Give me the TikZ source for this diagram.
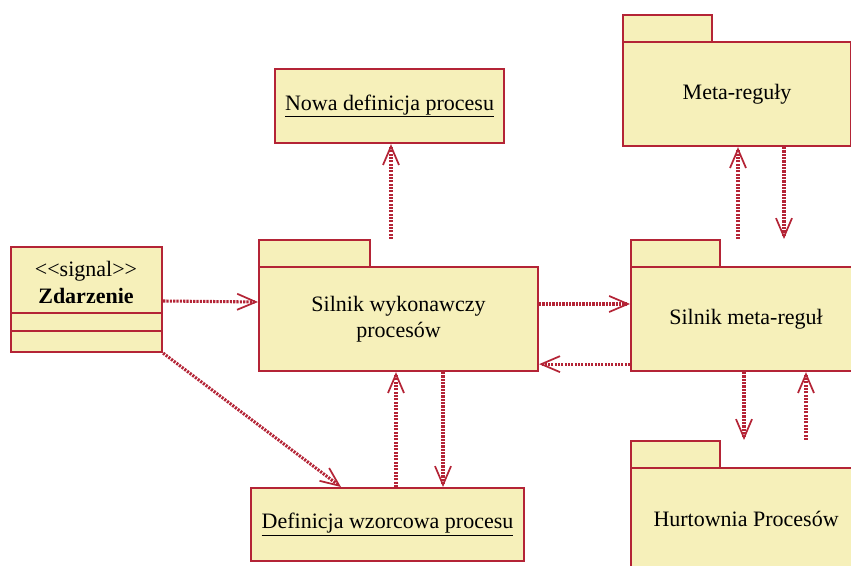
\documentclass[tikz,border=0pt]{standalone}
\usepackage{fontspec}
\setmainfont{Liberation Serif}
\usetikzlibrary{arrows.meta,calc}
\definecolor{umlred}{RGB}{180,36,54}
\definecolor{umlfill}{RGB}{246,240,186}
\begin{document}
\begin{tikzpicture}[x=0.75pt,y=-0.75pt,
  box/.style={draw=umlred, fill=umlfill, line width=1.6pt, inner sep=0pt, anchor=north west},
  sized/.style 2 args={minimum width={#1*0.75pt}, minimum height={#2*0.75pt}},
  lbl/.style={font=\fontsize{16.5}{19}\selectfont, text=black, align=center},
  sep/.style={draw=umlred, line width=1.6pt},
  dep/.style={draw=umlred, line width=2.3pt, dash pattern=on 1.6pt off 0.9pt,
    -{Straight Barb[length=14pt,width=12pt,line width=1.3pt]}},
]
\clip (0,0) rectangle (851,566);

% signal class
\node[box, sized={151}{105}] (zd) at (10,246) {};
\draw[sep] (zd.west |- 0,313) -- (zd.east |- 0,313);
\draw[sep] (zd.west |- 0,331) -- (zd.east |- 0,331);
\node[lbl] (zdst) at (86,271) {{<}{<}signal{>}{>}};
\node[lbl, font=\fontsize{16.5}{19}\selectfont\bfseries] (zdname) at (86,296) {Zdarzenie};

% objects
\node[box, sized={229}{74}, lbl] (nowa) at (274,68) {\underline{Nowa definicja procesu}};
\node[box, sized={273}{73}, lbl] (dwp) at (250,487) {\underline{Definicja wzorcowa procesu}};

% packages
\node[box, sized={111}{27}] (swptab) at (258,239) {};
\node[box, sized={279}{104}, lbl] (swp) at (258,266) {Silnik wykonawczy\\procesów};

\node[box, sized={89}{27}] (metatab) at (622,14) {};
\node[box, sized={228}{104}, lbl] (meta) at (622,41) {Meta-reguły};

\node[box, sized={89}{27}] (smrtab) at (630,239) {};
\node[box, sized={230}{104}, lbl] (smr) at (630,266) {Silnik meta-reguł};

\node[box, sized={89}{27}] (hptab) at (630,440) {};
\node[box, sized={230}{102}, lbl] (hp) at (630,467) {Hurtownia Procesów};

% dependencies
\draw[dep] ($(zd.north east)+(0,55)$) -- ($(swp.north west)+(0,36)$);
\draw[dep] (zd.south east) -- ($(dwp.north west)+(91,0)$);
\draw[dep] ($(swptab.north west)+(133,0)$) -- ($(nowa.south west)+(117,0)$);
\draw[dep] ($(dwp.north west)+(146,0)$) -- ($(swp.south west)+(138,0)$);
\draw[dep] ($(swp.south west)+(185,0)$) -- ($(dwp.north west)+(193,0)$);
\draw[dep] ($(swp.north east)+(0,38)$) -- ($(smr.north west)+(0,38)$);
\draw[dep] ($(smr.south west)+(0,-8)$) -- ($(swp.south east)+(0,-8)$);
\draw[dep] ($(smrtab.north west)+(108,0)$) -- ($(meta.south west)+(116,0)$);
\draw[dep] ($(meta.south west)+(162,0)$) -- ($(smrtab.north west)+(154,0)$);
\draw[dep] ($(smr.south west)+(114,0)$) -- ($(hptab.north west)+(114,0)$);
\draw[dep] ($(hptab.north west)+(176,0)$) -- ($(smr.south west)+(176,0)$);
\end{tikzpicture}
\end{document}
